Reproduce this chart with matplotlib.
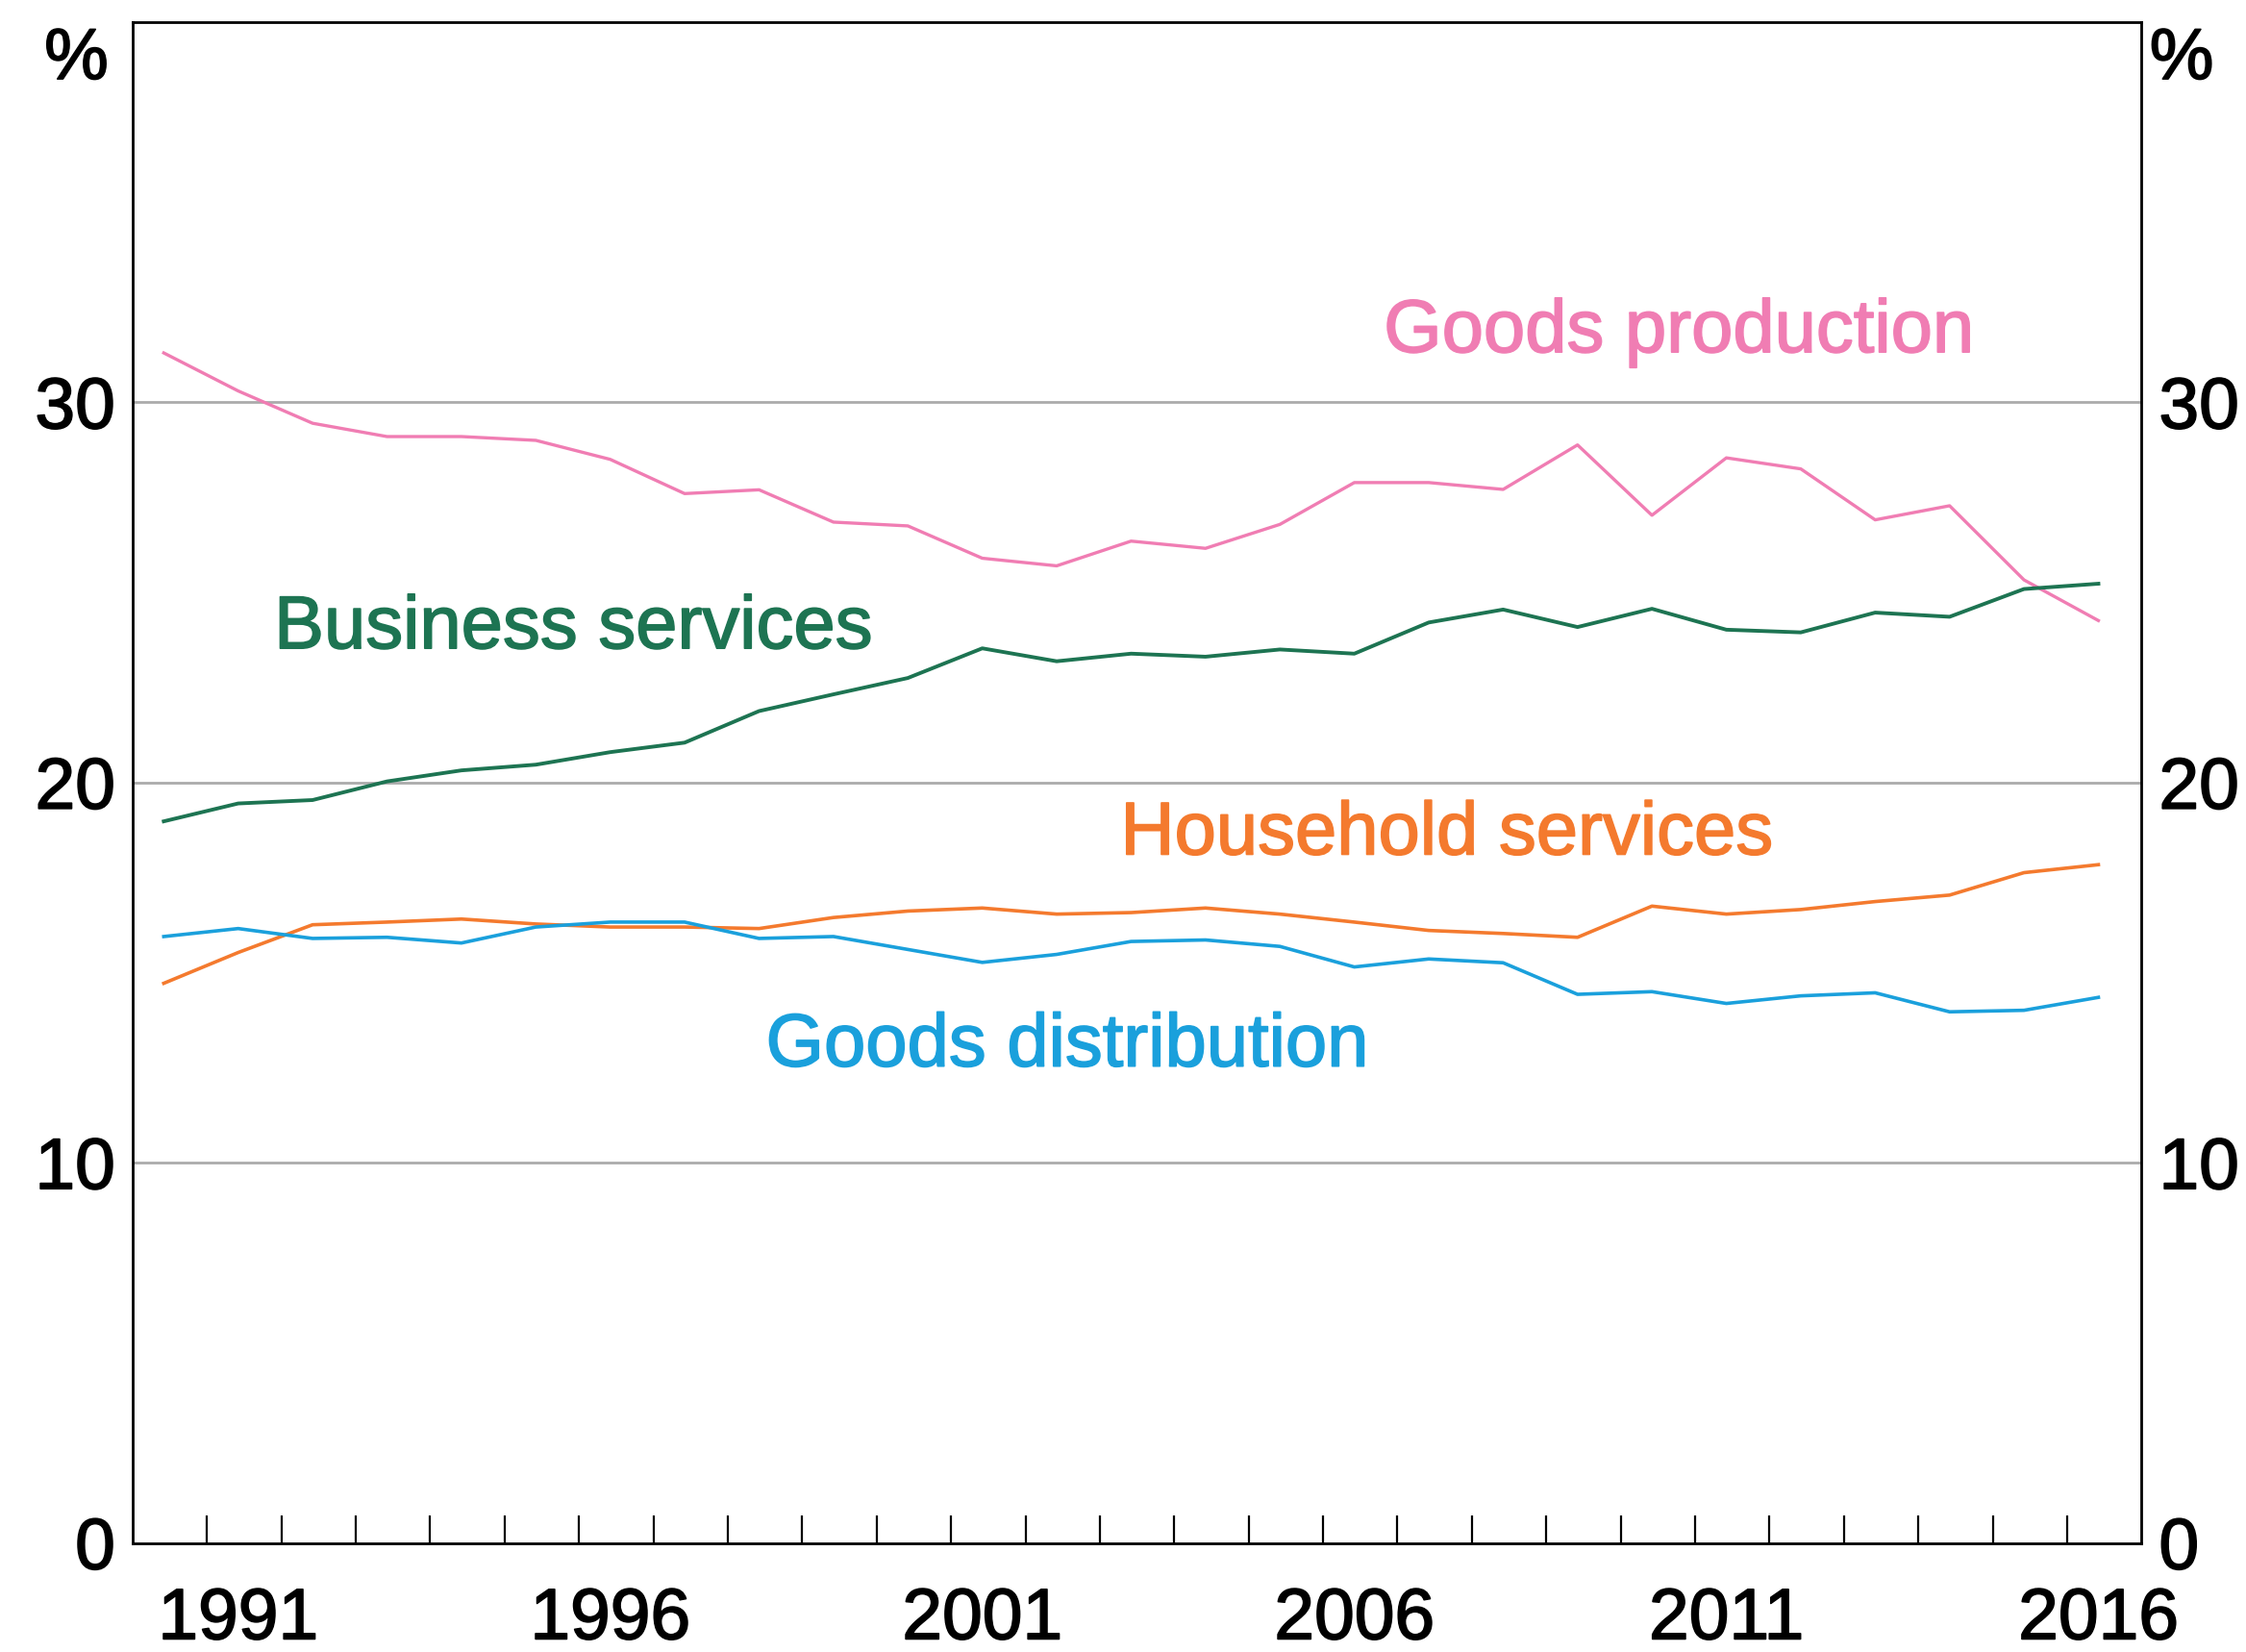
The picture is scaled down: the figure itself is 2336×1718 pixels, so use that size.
import numpy as np
import matplotlib.pyplot as plt
import matplotlib.patheffects as pe
from matplotlib.ticker import FixedLocator, FixedFormatter

plt.rcParams['font.family'] = ['Liberation Sans', 'DejaVu Sans']

years = np.arange(1990, 2017)

goods_production = [31.3, 30.3, 29.45, 29.1, 29.1, 29.0, 28.5, 27.6, 27.7, 26.85,
                    26.75, 25.9, 25.7, 26.35, 26.16, 26.79, 27.89, 27.89, 27.71, 28.88,
                    27.03, 28.54, 28.25, 26.91, 27.28, 25.33, 24.26]
business_services = [18.98, 19.45, 19.54, 20.03, 20.32, 20.47, 20.8, 21.05, 21.88, 22.32,
                     22.75, 23.53, 23.19, 23.39, 23.31, 23.5, 23.39, 24.21, 24.55, 24.09,
                     24.57, 24.02, 23.95, 24.47, 24.36, 25.09, 25.23]
household_services = [14.72, 15.53, 16.26, 16.33, 16.41, 16.28, 16.2, 16.2, 16.16, 16.45,
                      16.62, 16.7, 16.54, 16.58, 16.7, 16.54, 16.33, 16.11, 16.03, 15.93,
                      16.75, 16.54, 16.66, 16.87, 17.04, 17.63, 17.84]
goods_distribution = [15.95, 16.16, 15.9, 15.93, 15.78, 16.2, 16.33, 16.33, 15.9, 15.95,
                      15.61, 15.27, 15.48, 15.82, 15.86, 15.69, 15.15, 15.36, 15.26, 14.43,
                      14.5, 14.19, 14.39, 14.47, 13.97, 14.01, 14.35]

label_years = [1991, 1996, 2001, 2006, 2011, 2016]

pink = '#F07DB3'
green = '#1D7452'
orange = '#F47A2E'
blue = '#1AA0DC'

fig = plt.figure(figsize=(23.36, 17.18), dpi=100)
ax = fig.add_axes([0.059, 0.066, 0.8945, 0.9206])

x = years + 0.42
ax.plot(x, goods_production, color=pink, lw=2.4)
ax.plot(x, business_services, color=green, lw=2.8)
ax.plot(x, household_services, color=orange, lw=2.6)
ax.plot(x, goods_distribution, color=blue, lw=2.6)

ax.set_xlim(1990, 2017)
ax.set_ylim(0, 40)

for v in [10, 20, 30]:
    ax.axhline(v, color='#ABABAB', lw=2.0, zorder=0)

# year ticks on boundaries, labels in the middle of each labelled year
ax.xaxis.set_major_locator(FixedLocator(list(range(1991, 2017))))
ax.xaxis.set_major_formatter(FixedFormatter([''] * 26))
ax.xaxis.set_minor_locator(FixedLocator([y + 0.42 for y in label_years]))
ax.xaxis.set_minor_formatter(FixedFormatter([str(y) for y in label_years]))
ax.tick_params(axis='x', which='major', direction='in', length=21, width=1.6, color='black')
ax.tick_params(axis='x', which='minor', length=0, pad=33, labelsize=54)

ax.set_yticks([0, 10, 20, 30])
ax.set_yticklabels(['0', '10', '20', '30'])
ax.tick_params(axis='y', length=0, pad=13, labelsize=54, labelleft=True, labelright=True)

for s in ax.spines.values():
    s.set_linewidth(2.0)
    s.set_color('black')

# slight stroke so the text reads as heavy as the original
thick = [pe.withStroke(linewidth=1.2, foreground='black')]
for lab in ax.get_xticklabels(minor=True) + ax.get_yticklabels() + ax.yaxis.get_ticklabels(which='both'):
    lab.set_path_effects(thick)
for t in ax.yaxis.get_major_ticks():
    t.label2.set_path_effects(thick)

ax.text(-0.012, 0.975, '%', transform=ax.transAxes, ha='right', va='center', fontsize=54,
        path_effects=thick)
ax.text(1.004, 0.975, '%', transform=ax.transAxes, ha='left', va='center', fontsize=54,
        path_effects=thick)

labels = [
    (2010.78, 31.84, 'Goods production', pink),
    (1995.92, 24.05, 'Business services', green),
    (2007.66, 18.63, 'Household services', orange),
    (2002.56, 13.06, 'Goods distribution', blue),
]
for lx, ly, txt, c in labels:
    ax.text(lx, ly, txt, color=c, fontsize=56, ha='center', va='center',
            path_effects=[pe.withStroke(linewidth=1.2, foreground=c)])

fig.savefig('out.png', dpi=100)
